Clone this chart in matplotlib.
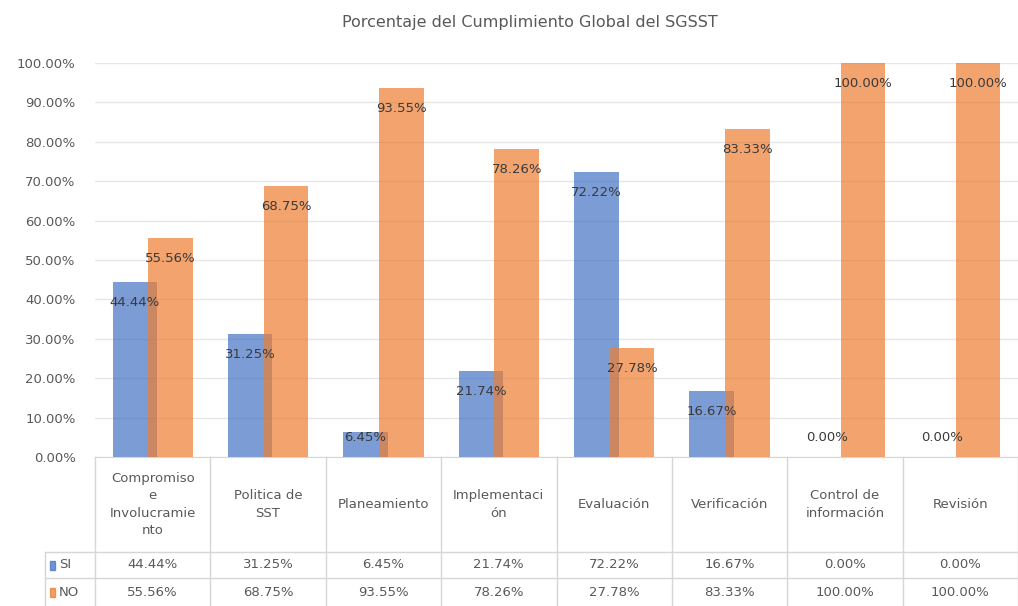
import matplotlib.pyplot as plt
from matplotlib.patches import Rectangle
from matplotlib.transforms import blended_transform_factory

# data
categories = ["Compromiso\ne\nInvolucramie\nnto", "Politica de\nSST", "Planeamiento",
              "Implementaci\nón", "Evaluación", "Verificación",
              "Control de\ninformación", "Revisión"]
si_values = [44.44, 31.25, 6.45, 21.74, 72.22, 16.67, 0.00, 0.00]
no_values = [55.56, 68.75, 93.55, 78.26, 27.78, 83.33, 100.00, 100.00]
series_names = ["SI", "NO"]

blue = "#4472C4"
orange = "#ED7D31"
text_gray = "#595959"
grid_gray = "#E6E6E6"
table_gray = "#D6D6D6"

W, H = 1018, 606
fig = plt.figure(figsize=(W / 100, H / 100), dpi=100)
ax_left, ax_right, ax_top, ax_bottom = 95, 1018, 63, 457
ax = fig.add_axes([ax_left / W, 1 - ax_bottom / H,
                   (ax_right - ax_left) / W, (ax_bottom - ax_top) / H])
ax_h = ax_bottom - ax_top

n = len(categories)
xs = list(range(n))
off = 0.155
bw = 0.385

ax.bar([x - off for x in xs], si_values, bw, color=blue, alpha=0.7, zorder=2)
ax.bar([x + off for x in xs], no_values, bw, color=orange, alpha=0.7, zorder=3)

# data labels (inside end)
for i in xs:
    for v, dx in ((si_values[i], -off), (no_values[i], off)):
        y = max(v - 5.2, 5.0)
        ax.text(i + dx, y, f"{v:.2f}%", ha="center", va="center",
                fontsize=9.5, color="#3A3A3A", zorder=5)

ax.set_xlim(-0.5, n - 0.5)
ax.set_ylim(0, 100)
ax.set_yticks(range(0, 101, 10))
ax.set_yticklabels([f"{t:.2f}%" for t in range(0, 101, 10)])
ax.tick_params(axis="y", length=0, pad=14, labelsize=9.5, labelcolor=text_gray)
ax.set_xticks([])
ax.grid(axis="y", color=grid_gray, linewidth=1, zorder=0)
for s in ["top", "right", "left"]:
    ax.spines[s].set_visible(False)
ax.spines["bottom"].set_color(table_gray)

fig.text(530 / W, 1 - 22 / H, "Porcentaje del Cumplimiento Global del SGSST",
         ha="center", va="center", fontsize=11.5, color=text_gray)

# data table below the axis
tr = blended_transform_factory(ax.transData, ax.transAxes)
row1 = -(552 - ax_bottom) / ax_h
row2 = -(578 - ax_bottom) / ax_h
row3 = -(606 - ax_bottom) / ax_h
key_left = -0.5 - 50 / ((ax_right - ax_left) / n)

line_kw = dict(color=table_gray, linewidth=1, transform=tr, clip_on=False)
ax.plot([key_left, n - 0.5], [row1, row1], **line_kw)
ax.plot([key_left, n - 0.5], [row2, row2], **line_kw)
ax.plot([key_left, key_left], [row1, row3], **line_kw)
for b in range(n + 1):
    ax.plot([b - 0.5, b - 0.5], [0, row3], **line_kw)

for i, cat in enumerate(categories):
    ax.text(i, row1 / 2, cat, ha="center", va="center", fontsize=9.5,
            color=text_gray, linespacing=1.45, transform=tr)
    ax.text(i, (row1 + row2) / 2, f"{si_values[i]:.2f}%", ha="center",
            va="center", fontsize=9.5, color=text_gray, transform=tr)
    ax.text(i, (row2 + row3) / 2, f"{no_values[i]:.2f}%", ha="center",
            va="center", fontsize=9.5, color=text_gray, transform=tr)

# legend keys in the table
for name, col, (ya, yb) in zip(series_names, [blue, orange],
                               [(row1, row2), (row2, row3)]):
    yc = 1 - (ax_bottom - (ya + yb) / 2 * ax_h) / H
    fig.add_artist(Rectangle((50 / W, yc - 4.5 / H), 5 / W, 9 / H,
                             color=col, alpha=0.75, transform=fig.transFigure))
    fig.text(59 / W, yc, name, ha="left", va="center", fontsize=9.5,
             color=text_gray)

fig.savefig("out.png", dpi=100)
